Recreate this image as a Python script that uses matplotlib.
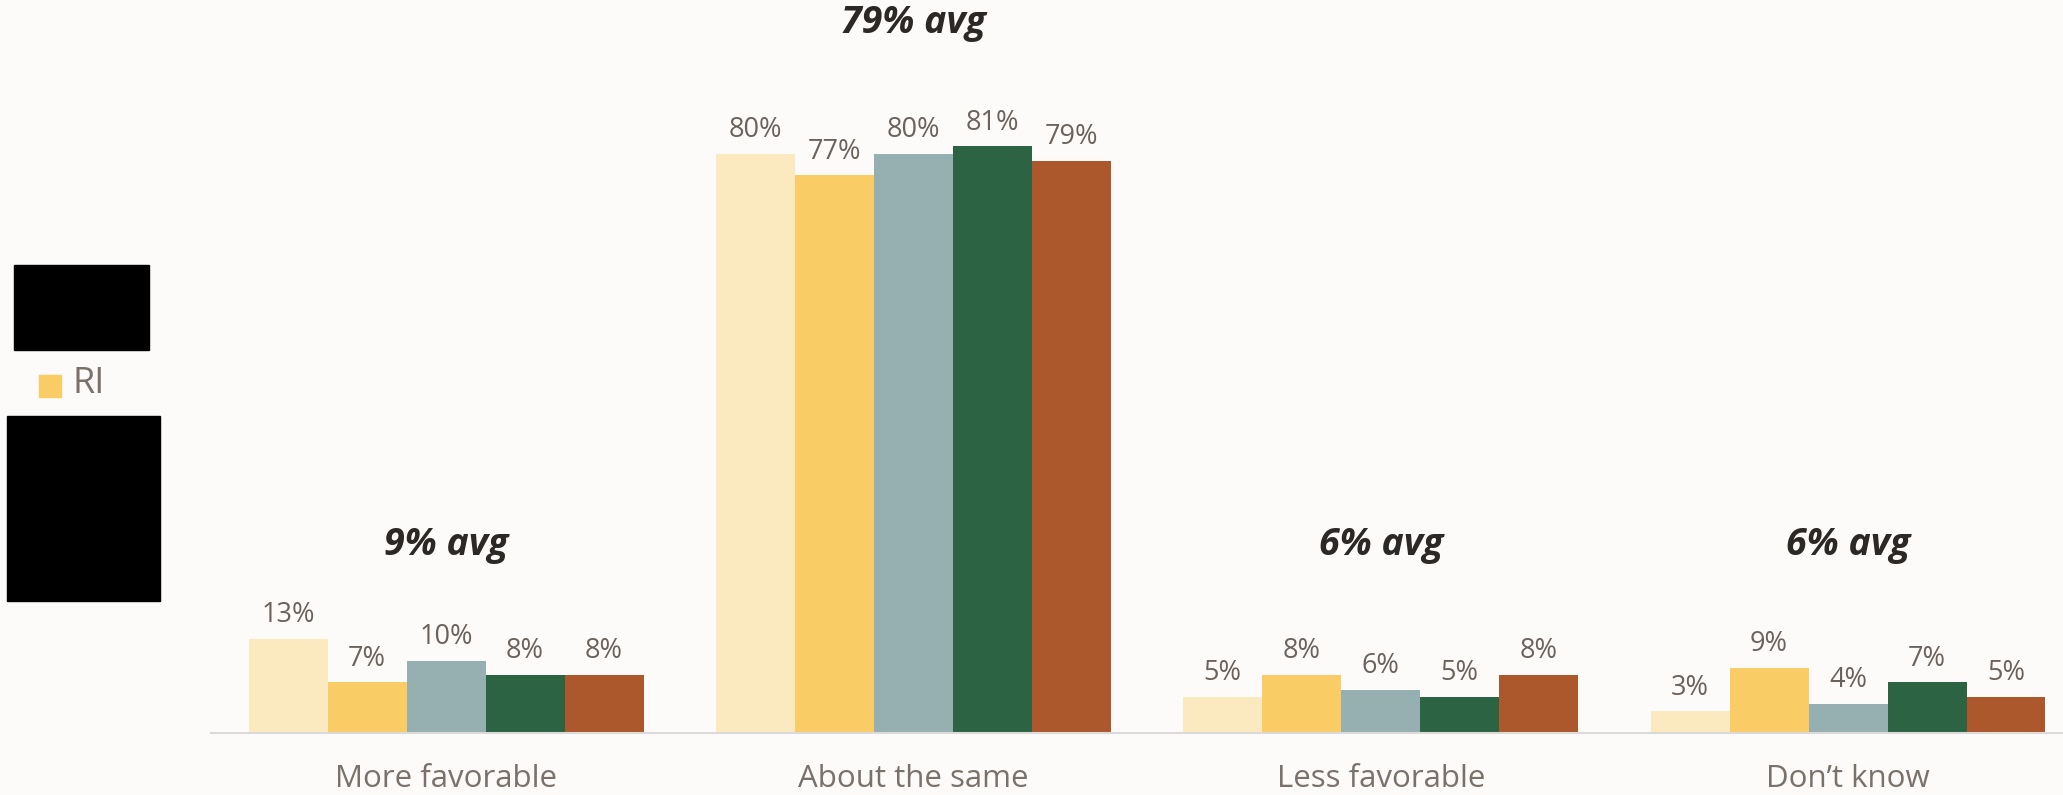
import numpy as np
import matplotlib.pyplot as plt
from matplotlib.patches import Rectangle

plt.rcParams['font.family'] = ['Open Sans', 'DejaVu Sans']

categories = ['More favorable', 'About the same', 'Less favorable', 'Don\u2019t know']
series_values = [
    [13, 80, 5, 3],
    [7, 77, 8, 9],
    [10, 80, 6, 4],
    [8, 81, 5, 7],
    [8, 79, 8, 5],
]
averages = [9, 79, 6, 6]
avg_label_y = [26, 98, 26, 26]
colors = ['#fbeac0', '#f9cc66', '#96afb0', '#2b6343', '#ad572d']
legend_label = 'RI'

bg = '#fcfbfa'
fig = plt.figure(figsize=(20.63, 7.95), dpi=100, facecolor=bg)
ax = fig.add_axes([0.1023, 0.078, 0.8977, 0.922], facecolor=bg)

x = np.arange(len(categories))
w = 0.169
for i, vals in enumerate(series_values):
    pos = x + (i - 2) * w
    ax.bar(pos, vals, width=w, color=colors[i], edgecolor='none')
    for p, v in zip(pos, vals):
        ax.annotate(f'{v}%', (p, v), xytext=(0, 7), textcoords='offset points',
                    ha='center', va='bottom', fontsize=19.5, color='#6b625c')

for xi, a, ay in zip(x, averages, avg_label_y):
    ax.text(xi, ay, f'{a}% avg', ha='center', va='center', fontsize=27,
            fontweight='bold', fontstyle='italic', color='#2b2826')

ax.set_xlim(-0.503, 3.46)
ax.set_ylim(0, 101.2)
ax.set_xticks(x)
ax.set_xticklabels(categories, fontsize=22.5, color='#7a716b')
ax.tick_params(axis='x', length=0, pad=22)
ax.set_yticks([])
for s in ['top', 'right', 'left']:
    ax.spines[s].set_visible(False)
ax.spines['bottom'].set_color('#dcdad8')
ax.spines['bottom'].set_linewidth(1.5)

# legend on the left: one visible entry, the rest blacked out
fig.patches.append(Rectangle((39 / 2063, 1 - 397 / 795), 22 / 2063, 22 / 795,
                             transform=fig.transFigure, color=colors[1]))
fig.text(72 / 2063, 1 - 384 / 795, legend_label, fontsize=26, color='#7a716b',
         va='center', ha='left')
fig.patches.append(Rectangle((14 / 2063, 1 - 350 / 795), 135 / 2063, 85 / 795,
                             transform=fig.transFigure, color='black'))
fig.patches.append(Rectangle((7 / 2063, 1 - 601 / 795), 153 / 2063, 185 / 795,
                             transform=fig.transFigure, color='black'))

fig.savefig('out.png', dpi=100, facecolor=bg)
